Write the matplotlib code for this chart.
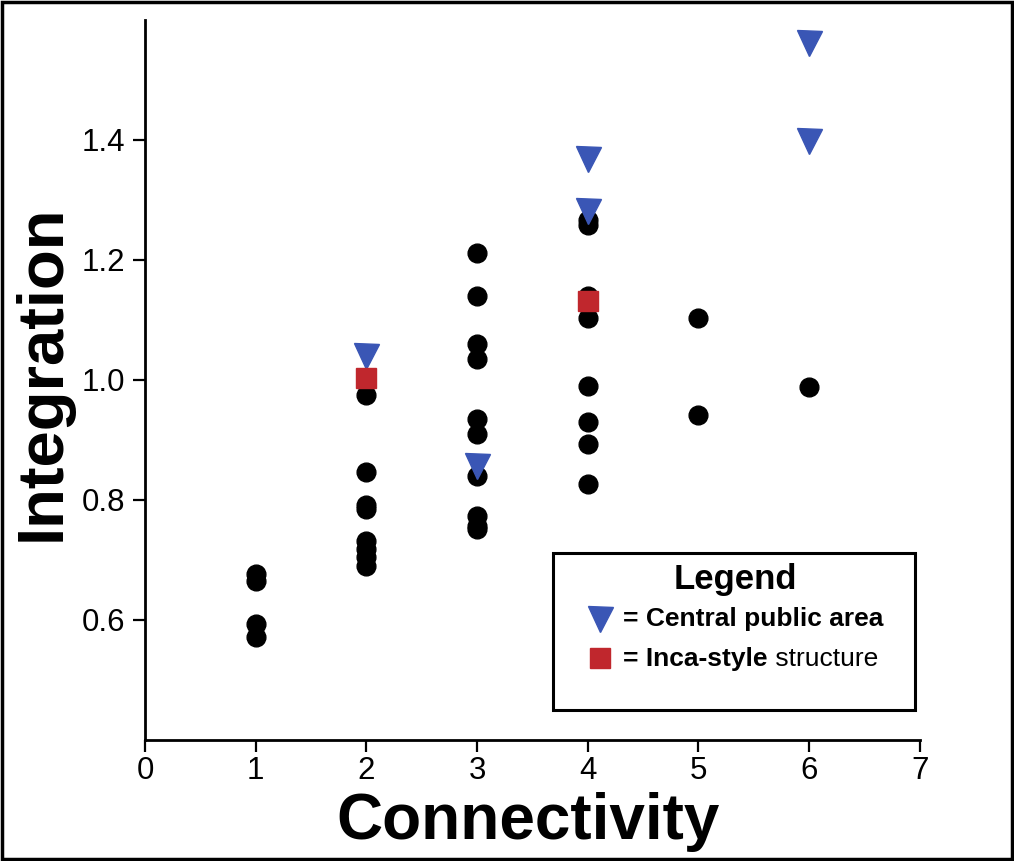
import matplotlib.pyplot as plt
from matplotlib.patches import Rectangle

plt.rcParams['font.family'] = ['Liberation Sans', 'DejaVu Sans']

# all structures (black circles)
conn_all = [1, 1, 1, 1,
            2, 2, 2, 2, 2, 2, 2, 2,
            3, 3, 3, 3, 3, 3, 3, 3, 3, 3,
            4, 4, 4, 4, 4, 4, 4, 4,
            5, 5,
            6]
integ_all = [0.676, 0.665, 0.593, 0.572,
             0.975, 0.846, 0.792, 0.785, 0.731, 0.718, 0.705, 0.690,
             1.212, 1.140, 1.060, 1.035, 0.935, 0.910, 0.840, 0.773, 0.752, 0.757,
             1.267, 1.258, 1.140, 1.103, 0.990, 0.930, 0.894, 0.826,
             1.103, 0.942,
             0.988]

# central public areas (blue triangles)
conn_central = [2, 3, 4, 4, 6, 6]
integ_central = [1.040, 0.857, 1.368, 1.282, 1.562, 1.398]

# inca-style structures (red squares)
conn_inca = [2, 4]
integ_inca = [1.003, 1.131]

blue = '#3A56B5'
red = '#C0272D'

fig = plt.figure(figsize=(10.14, 8.61), dpi=100)
ax = fig.add_axes([0.143, 0.1405, 0.764, 0.8365])

ax.plot(conn_all, integ_all, 'o', color='black', markersize=13.5, zorder=2)
ax.plot(conn_central, integ_central, 'v', color=blue, markersize=18, zorder=3)
ax.plot(conn_inca, integ_inca, 's', color=red, markersize=14, zorder=3)

ax.set_xlim(0, 7)
ax.set_ylim(0.4, 1.6)
ax.set_xticks(range(0, 8))
ax.set_yticks([0.6, 0.8, 1.0, 1.2, 1.4])
ax.set_yticklabels(['0.6', '0.8', '1.0', '1.2', '1.4'])
for s in ['top', 'right']:
    ax.spines[s].set_visible(False)
for s in ['left', 'bottom']:
    ax.spines[s].set_linewidth(2)
ax.tick_params(axis='both', length=8.5, width=1.6, labelsize=22.5, colors='black')
ax.tick_params(axis='x', pad=3)
ax.tick_params(axis='y', pad=6)

ax.set_xlabel('Connectivity', fontsize=46, fontweight='bold')
ax.set_ylabel('Integration', fontsize=47, fontweight='bold')
ax.xaxis.set_label_coords(0.495, -0.072)
ax.yaxis.set_label_coords(-0.094, 0.51)

# legend box drawn by hand
W, H = 1014.0, 861.0
fig.patches.append(Rectangle((553 / W, 1 - 710 / H), 362 / W, 157 / H,
                             transform=fig.transFigure, fill=False,
                             edgecolor='black', linewidth=2.2))
fig.text(735 / W, 1 - 580 / H, 'Legend', fontsize=25, fontweight='bold',
         ha='center', va='center')
fig.lines.append(plt.Line2D([600 / W], [1 - 619 / H], marker='v', color=blue,
                            markersize=18, transform=fig.transFigure))
fig.lines.append(plt.Line2D([600 / W], [1 - 658 / H], marker='s', color=red,
                            markersize=14, transform=fig.transFigure))
fig.text(623 / W, 1 - 619 / H, '= Central public area', fontsize=19,
         fontweight='bold', ha='left', va='center')
t1 = fig.text(623 / W, 1 - 659 / H, '= Inca-style', fontsize=19,
              fontweight='bold', ha='left', va='center')
ax.annotate(' structure', xy=(1, 0), xycoords=t1, fontsize=19,
            ha='left', va='bottom', annotation_clip=False)

# outer frame
fig.patches.append(Rectangle((0.002, 0.002), 0.996, 0.996,
                             transform=fig.transFigure, fill=False,
                             edgecolor='black', linewidth=2.5))

fig.savefig('out.png', dpi=100)
